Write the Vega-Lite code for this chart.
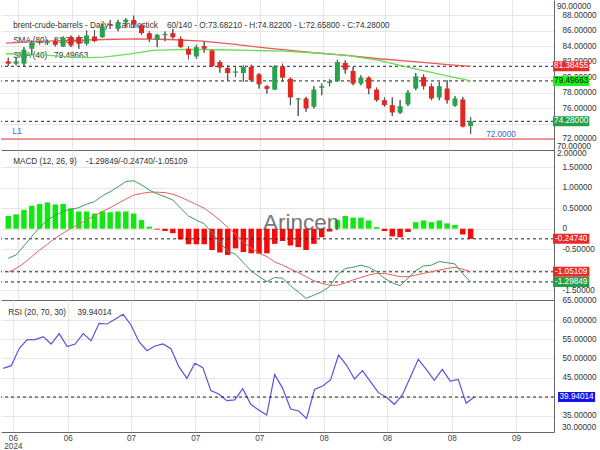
{
  "$schema": "https://vega.github.io/schema/vega-lite/v6.json",
  "padding": 0,
  "autosize": {"type": "pad"},
  "background": "white",
  "spacing": 0,
  "bounds": "flush",
  "config": {
    "font": "Liberation Sans",
    "view": {"stroke": null},
    "locale": {"number": {"decimal": ".", "thousands": ",", "grouping": [3], "currency": ["$", ""], "minus": "-"}},
    "axis": {"labelFont": "Liberation Sans", "labelFontSize": 8.2, "labelColor": "#333", "gridColor": "#e6e6e6", "domainColor": "#666", "domainWidth": 1, "ticks": false, "title": null, "labelOverlap": false, "labelFlush": false, "tickCount": 30, "zindex": 0},
    "text": {"font": "Liberation Sans"}
  },
  "datasets": {
    "candles": [
      {"i":0,"o":82.02,"h":82.49,"l":81.42,"c":81.72},
      {"i":1,"o":81.72,"h":82.58,"l":81.51,"c":82.02},
      {"i":2,"o":81.72,"h":83.86,"l":81.42,"c":83.52},
      {"i":3,"o":83.65,"h":84.72,"l":82.79,"c":84.42},
      {"i":4,"o":84.42,"h":84.65,"l":84.20,"c":84.57},
      {"i":5,"o":84.38,"h":84.80,"l":84.16,"c":84.54},
      {"i":6,"o":84.63,"h":84.93,"l":83.94,"c":84.16},
      {"i":7,"o":83.94,"h":85.23,"l":83.86,"c":85.06},
      {"i":8,"o":85.14,"h":85.36,"l":83.86,"c":84.07},
      {"i":9,"o":85.14,"h":85.36,"l":83.65,"c":84.29},
      {"i":10,"o":84.29,"h":86.00,"l":84.07,"c":85.36},
      {"i":11,"o":85.23,"h":86.08,"l":84.50,"c":84.63},
      {"i":12,"o":85.14,"h":86.85,"l":85.06,"c":86.51},
      {"i":13,"o":86.85,"h":87.37,"l":86.21,"c":86.68},
      {"i":14,"o":86.21,"h":87.37,"l":85.91,"c":87.07},
      {"i":15,"o":87.07,"h":87.58,"l":86.51,"c":87.41},
      {"i":16,"o":87.37,"h":87.92,"l":86.43,"c":86.77},
      {"i":17,"o":86.64,"h":86.85,"l":85.44,"c":85.66},
      {"i":18,"o":85.66,"h":85.91,"l":84.50,"c":84.93},
      {"i":19,"o":84.84,"h":85.57,"l":83.86,"c":85.44},
      {"i":20,"o":85.40,"h":85.87,"l":84.63,"c":85.55},
      {"i":21,"o":85.66,"h":86.21,"l":84.93,"c":85.14},
      {"i":22,"o":84.93,"h":85.23,"l":83.73,"c":83.86},
      {"i":23,"o":83.65,"h":83.94,"l":82.28,"c":82.88},
      {"i":24,"o":82.66,"h":84.16,"l":82.36,"c":83.86},
      {"i":25,"o":83.99,"h":84.59,"l":83.13,"c":83.65},
      {"i":26,"o":83.43,"h":83.52,"l":81.29,"c":81.42},
      {"i":27,"o":81.93,"h":82.15,"l":80.56,"c":81.21},
      {"i":28,"o":81.16,"h":81.51,"l":79.58,"c":80.52},
      {"i":29,"o":80.56,"h":81.29,"l":80.01,"c":80.72},
      {"i":30,"o":80.52,"h":81.51,"l":79.37,"c":81.29},
      {"i":31,"o":81.29,"h":81.59,"l":79.37,"c":79.58},
      {"i":32,"o":80.35,"h":80.52,"l":78.51,"c":79.07},
      {"i":33,"o":78.81,"h":78.94,"l":77.87,"c":78.47},
      {"i":34,"o":78.38,"h":81.51,"l":78.30,"c":81.38},
      {"i":35,"o":81.38,"h":81.72,"l":79.37,"c":79.92},
      {"i":36,"o":79.79,"h":79.92,"l":76.37,"c":77.36},
      {"i":37,"o":77.08,"h":77.31,"l":74.96,"c":77.23},
      {"i":38,"o":77.23,"h":77.44,"l":75.52,"c":75.94},
      {"i":39,"o":76.16,"h":78.81,"l":75.94,"c":78.38},
      {"i":40,"o":78.60,"h":79.15,"l":77.65,"c":78.81},
      {"i":41,"o":79.24,"h":79.71,"l":78.81,"c":79.45},
      {"i":42,"o":79.45,"h":82.23,"l":79.37,"c":81.93},
      {"i":43,"o":81.81,"h":82.15,"l":80.44,"c":80.95},
      {"i":44,"o":80.78,"h":81.29,"l":78.94,"c":79.15},
      {"i":45,"o":79.15,"h":80.22,"l":78.94,"c":79.92},
      {"i":46,"o":79.92,"h":80.09,"l":77.78,"c":78.51},
      {"i":47,"o":78.38,"h":78.64,"l":76.80,"c":77.01},
      {"i":48,"o":77.01,"h":77.36,"l":76.16,"c":76.37},
      {"i":49,"o":76.37,"h":77.36,"l":74.96,"c":75.43},
      {"i":50,"o":75.39,"h":77.01,"l":75.22,"c":76.24},
      {"i":51,"o":76.46,"h":78.30,"l":76.24,"c":78.00},
      {"i":52,"o":78.51,"h":80.52,"l":78.30,"c":80.09},
      {"i":53,"o":80.01,"h":80.35,"l":78.38,"c":78.81},
      {"i":54,"o":78.81,"h":79.15,"l":77.01,"c":77.23},
      {"i":55,"o":77.36,"h":79.37,"l":77.01,"c":78.81},
      {"i":56,"o":78.51,"h":79.58,"l":76.58,"c":77.01},
      {"i":57,"o":76.29,"h":77.53,"l":76.16,"c":77.23},
      {"i":58,"o":77.10,"h":77.44,"l":73.50,"c":73.59},
      {"i":59,"o":73.6821,"h":74.822,"l":72.658,"c":74.28}
    ],
    "sma80": [
      {"i":-0.29,"v":84.37},{"i":3.9,"v":84.59},{"i":8.1,"v":84.72},{"i":12.2,"v":84.84},
      {"i":16.4,"v":84.93},{"i":20.6,"v":84.84},{"i":24.8,"v":84.63},{"i":29.0,"v":84.20},
      {"i":33.1,"v":83.73},{"i":37.3,"v":83.30},{"i":39.0,"v":83.13},{"i":43.2,"v":82.79},
      {"i":47.3,"v":82.36},{"i":51.5,"v":82.02},{"i":55.7,"v":81.63},{"i":59,"v":81.38455}
    ],
    "sma40": [
      {"i":-0.29,"v":83.00},{"i":3.9,"v":82.88},{"i":8.1,"v":82.58},{"i":10.2,"v":82.49},
      {"i":12.2,"v":82.58},{"i":15.6,"v":83.00},{"i":18.5,"v":83.43},{"i":22.7,"v":83.56},
      {"i":26.9,"v":83.52},{"i":31.0,"v":83.43},{"i":35.2,"v":83.35},{"i":37.3,"v":83.22},
      {"i":39.0,"v":83.13},{"i":43.2,"v":82.79},{"i":47.3,"v":82.15},{"i":51.5,"v":81.16},
      {"i":55.7,"v":80.22},{"i":59,"v":79.49663}
    ],
    "macd": [
      {"i":0,"m":-0.72,"s":-1.06,"h":0.31},{"i":1,"m":-0.64,"s":-0.97,"h":0.35},
      {"i":2,"m":-0.42,"s":-0.84,"h":0.46},{"i":3,"m":-0.19,"s":-0.68,"h":0.56},
      {"i":4,"m":0.03,"s":-0.52,"h":0.60},{"i":5,"m":0.21,"s":-0.38,"h":0.64},
      {"i":6,"m":0.33,"s":-0.23,"h":0.59},{"i":7,"m":0.42,"s":-0.11,"h":0.60},
      {"i":8,"m":0.48,"s":0.01,"h":0.49},{"i":9,"m":0.51,"s":0.11,"h":0.42},
      {"i":10,"m":0.60,"s":0.21,"h":0.42},{"i":11,"m":0.66,"s":0.31,"h":0.37},
      {"i":12,"m":0.80,"s":0.42,"h":0.42},{"i":13,"m":0.90,"s":0.51,"h":0.40},
      {"i":14,"m":1.02,"s":0.62,"h":0.42},{"i":15,"m":1.15,"s":0.72,"h":0.42},
      {"i":16,"m":1.17,"s":0.82,"h":0.37},{"i":17,"m":1.07,"s":0.86,"h":0.21},
      {"i":18,"m":0.94,"s":0.89,"h":0.05},{"i":19,"m":0.85,"s":0.89,"h":-0.02},
      {"i":20,"m":0.78,"s":0.88,"h":-0.056},{"i":21,"m":0.70,"s":0.84,"h":-0.11},
      {"i":22,"m":0.50,"s":0.77,"h":-0.26},{"i":23,"m":0.31,"s":0.68,"h":-0.38},
      {"i":24,"m":0.21,"s":0.59,"h":-0.38},{"i":25,"m":0.12,"s":0.50,"h":-0.38},
      {"i":26,"m":-0.10,"s":0.36,"h":-0.52},{"i":27,"m":-0.33,"s":0.21,"h":-0.58},
      {"i":28,"m":-0.55,"s":0.03,"h":-0.64},{"i":29,"m":-0.62,"s":-0.13,"h":-0.48},
      {"i":30,"m":-0.83,"s":-0.32,"h":-0.57},{"i":31,"m":-1.03,"s":-0.48,"h":-0.60},
      {"i":32,"m":-1.17,"s":-0.60,"h":-0.61},{"i":33,"m":-1.29,"s":-0.68,"h":-0.60},
      {"i":34,"m":-1.19,"s":-0.81,"h":-0.37},{"i":35,"m":-1.21,"s":-0.89,"h":-0.30},
      {"i":36,"m":-1.39,"s":-0.98,"h":-0.41},{"i":37,"m":-1.54,"s":-1.07,"h":-0.45},
      {"i":38,"m":-1.70,"s":-1.17,"h":-0.52},{"i":39,"m":-1.62,"s":-1.27,"h":-0.37},
      {"i":40,"m":-1.54,"s":-1.33,"h":-0.21},{"i":41,"m":-1.41,"s":-1.38,"h":-0.07},
      {"i":42,"m":-1.13,"s":-1.38,"h":0.21},{"i":43,"m":-0.97,"s":-1.32,"h":0.31},
      {"i":44,"m":-0.94,"s":-1.25,"h":0.27},{"i":45,"m":-0.89,"s":-1.19,"h":0.27},
      {"i":46,"m":-0.94,"s":-1.13,"h":0.20},{"i":47,"m":-1.05,"s":-1.09,"h":0.04},
      {"i":48,"m":-1.21,"s":-1.09,"h":-0.056},{"i":49,"m":-1.32,"s":-1.13,"h":-0.19},
      {"i":50,"m":-1.39,"s":-1.17,"h":-0.21},{"i":51,"m":-1.21,"s":-1.17,"h":-0.08},
      {"i":52,"m":-1.02,"s":-1.13,"h":0.16},{"i":53,"m":-0.91,"s":-1.09,"h":0.20},
      {"i":54,"m":-0.89,"s":-1.05,"h":0.16},{"i":55,"m":-0.80,"s":-1.01,"h":0.20},
      {"i":56,"m":-0.83,"s":-0.97,"h":0.13},{"i":57,"m":-0.86,"s":-0.94,"h":0.09},
      {"i":58,"m":-1.10,"s":-0.99,"h":-0.14},{"i":59,"m":-1.29849,"s":-1.05109,"h":-0.2474}
    ],
    "rsi": [
      {"i":0,"r":47.41},{"i":1,"r":48.11},{"i":2,"r":52.62},{"i":3,"r":54.88},{"i":4,"r":54.88},
      {"i":5,"r":55.66},{"i":6,"r":53.75},{"i":7,"r":56.44},{"i":8,"r":53.06},{"i":9,"r":53.75},
      {"i":10,"r":56.44},{"i":11,"r":54.62},{"i":12,"r":59.13},{"i":13,"r":58.96},{"i":14,"r":60.17},
      {"i":15,"r":61.48},{"i":16,"r":58.70},{"i":17,"r":54.36},{"i":18,"r":52.01},{"i":19,"r":53.23},
      {"i":20,"r":53.75},{"i":21,"r":52.53},{"i":22,"r":47.85},{"i":23,"r":44.81},{"i":24,"r":48.72},
      {"i":25,"r":47.59},{"i":26,"r":41.60},{"i":27,"r":40.73},{"i":28,"r":38.99},{"i":29,"r":39.2},
      {"i":30,"r":42.12},{"i":31,"r":38.04},{"i":32,"r":36.56},{"i":33,"r":35.26},{"i":34,"r":45.85},
      {"i":35,"r":42.20},{"i":36,"r":36.82},{"i":37,"r":36.30},{"i":38,"r":34.39},{"i":39,"r":41.94},
      {"i":40,"r":42.81},{"i":41,"r":44.38},{"i":42,"r":50.89},{"i":43,"r":48.28},{"i":44,"r":44.64},
      {"i":45,"r":46.81},{"i":46,"r":43.94},{"i":47,"r":41.08},{"i":48,"r":39.86},{"i":49,"r":38.04},
      {"i":50,"r":40.47},{"i":51,"r":45.07},{"i":52,"r":49.76},{"i":53,"r":47.15},{"i":54,"r":44.29},
      {"i":55,"r":47.15},{"i":56,"r":44.11},{"i":57,"r":44.55},{"i":58,"r":38.30},{"i":59,"r":39.94014}
    ],
    "priceLevels": [{"k":"sma80","v":81.38455},{"k":"sma40","v":79.49663},{"k":"close","v":74.28}],
    "macdLevels": [{"k":"hist","v":-0.2474},{"k":"signal","v":-1.05109},{"k":"macd","v":-1.29849}],
    "rsiLevels": [{"k":"rsi","v":39.94014}],
    "alerts": [{"name":"L1","v":72}]
  },
  "resolve": {"scale": {"x": "independent", "y": "independent"}},
  "vconcat": [
    {
      "width": 553, "height": 150,
      "layer": [
        {
          "data": {"name": "candles"},
          "mark": {"type": "rule", "color": "#555", "strokeWidth": 1},
          "encoding": {
            "x": {"field": "i", "type": "quantitative", "scale": {"domain": [-0.29, 69.0], "nice": false, "zero": false},
              "axis": {"values": [1.2, 8.07, 16, 24.06, 32.08, 40.15, 48.08, 56.19, 64.25], "tickCount": 30, "labels": false, "ticks": false, "domain": true, "grid": true, "title": null, "zindex": 0}},
            "y": {"field": "l", "type": "quantitative", "scale": {"domain": [70.58, 89.94], "nice": false, "zero": false},
              "axis": {"orient": "right", "values": [72,74,76,78,80,82,84,86,88], "tickCount": 30, "labelExpr": "datum.value == 74 ? '' : format(datum.value, '.5f')", "labelPadding": 8, "ticks": false, "domain": true, "grid": true, "title": null, "zindex": 0}},
            "y2": {"field": "h"}
          }
        },
        {
          "data": {"values": [{"t": 0}]},
          "mark": {"type": "text", "align": "left", "baseline": "middle", "fontSize": 8.2, "color": "#333", "lineHeight": 15},
          "encoding": {
            "x": {"datum": 0.62},
            "y": {"datum": 86.62},
            "text": {"value": ["brent-crude-barrels - Daily - Candlestick\u00a0\u00a0\u00a0\u00a060/140 - O:73.68210 - H:74.82200 - L:72.65800 - C:74.28000", "SMA (80)\u00a0\u00a0\u00a081.38455", "SMA (40)\u00a0\u00a0\u00a079.49663"]}
          }
        },
        {
          "data": {"values": [{"v": 90}]},
          "mark": {"type": "text", "align": "left", "baseline": "middle", "fontSize": 8.2, "color": "#333", "dy": 7},
          "encoding": {"x": {"datum": 70.01}, "y": {"field": "v", "type": "quantitative"}, "text": {"field": "v", "type": "quantitative", "format": ".5f"}}
        },
        {
          "data": {"values": [{"v": 70}]},
          "mark": {"type": "text", "align": "left", "baseline": "middle", "fontSize": 8.2, "color": "#333", "dy": -7.5},
          "encoding": {"x": {"datum": 70.01}, "y": {"field": "v", "type": "quantitative"}, "text": {"field": "v", "type": "quantitative", "format": ".5f"}}
        },
        {
          "data": {"name": "priceLevels"},
          "mark": {"type": "rule", "strokeDash": [3, 3], "color": "#222", "strokeWidth": 1},
          "encoding": {"y": {"field": "v", "type": "quantitative"}}
        },
        {
          "data": {"name": "alerts"},
          "mark": {"type": "rule", "color": "#e8393a", "strokeWidth": 1},
          "encoding": {"y": {"field": "v", "type": "quantitative"}}
        },
        {
          "data": {"name": "sma80"},
          "mark": {"type": "line", "color": "#e85a5a", "strokeWidth": 1.3},
          "encoding": {"x": {"field": "i", "type": "quantitative"}, "y": {"field": "v", "type": "quantitative"}}
        },
        {
          "data": {"name": "sma40"},
          "mark": {"type": "line", "color": "#66dd55", "strokeWidth": 1.3},
          "encoding": {"x": {"field": "i", "type": "quantitative"}, "y": {"field": "v", "type": "quantitative"}}
        },
        {
          "data": {"name": "candles"},
          "mark": {"type": "rule", "color": "#555", "strokeWidth": 1},
          "encoding": {"x": {"field": "i", "type": "quantitative"}, "y": {"field": "l", "type": "quantitative"}, "y2": {"field": "h"}}
        },
        {
          "data": {"name": "candles"},
          "mark": {"type": "bar", "size": 5},
          "encoding": {
            "x": {"field": "i", "type": "quantitative"},
            "y": {"field": "o", "type": "quantitative"},
            "y2": {"field": "c"},
            "color": {"condition": {"test": "datum.c >= datum.o", "value": "#28a24c"}, "value": "#e3261f"}
          }
        },
        {
          "data": {"name": "priceLevels"},
          "mark": {"type": "rect", "yOffset": -5, "y2Offset": 5},
          "encoding": {
            "x": {"datum": 69.51}, "x2": {"datum": 74.15},
            "y": {"field": "v", "type": "quantitative"}, "y2": {"field": "v"},
            "color": {"condition": [{"test": "datum.k == 'sma80'", "value": "#ea2a2a"}, {"test": "datum.k == 'sma40'", "value": "#1fee1f"}], "value": "#24a04a"}
          }
        },
        {
          "data": {"name": "priceLevels"},
          "mark": {"type": "text", "align": "center", "baseline": "middle", "fontSize": 8.2},
          "encoding": {
            "x": {"datum": 71.83},
            "y": {"field": "v", "type": "quantitative"},
            "text": {"field": "v", "type": "quantitative", "format": ".5f"},
            "color": {"condition": {"test": "datum.k == 'sma40'", "value": "#111"}, "value": "white"}
          }
        },
        {
          "data": {"name": "alerts"},
          "mark": {"type": "text", "align": "left", "baseline": "middle", "fontSize": 8.2, "color": "#3c64d8", "dy": -7},
          "encoding": {"x": {"datum": 0.55}, "y": {"field": "v", "type": "quantitative"}, "text": {"field": "name"}}
        },
        {
          "data": {"name": "alerts"},
          "mark": {"type": "text", "align": "center", "baseline": "middle", "fontSize": 8.2, "color": "#3c64d8", "dy": -4},
          "encoding": {"x": {"datum": 62.87}, "y": {"field": "v", "type": "quantitative"}, "text": {"field": "v", "type": "quantitative", "format": ".4f"}}
        }
      ]
    },
    {
      "width": 553, "height": 150,
      "layer": [
        {
          "data": {"name": "macd"},
          "mark": {"type": "bar", "size": 5.5},
          "encoding": {
            "x": {"field": "i", "type": "quantitative", "scale": {"domain": [-0.29, 69.0], "nice": false, "zero": false},
              "axis": {"values": [1.2, 8.07, 16, 24.06, 32.08, 40.15, 48.08, 56.19, 64.25], "tickCount": 30, "labels": false, "ticks": false, "domain": true, "grid": true, "title": null, "zindex": 0}},
            "y": {"field": "h", "type": "quantitative", "scale": {"domain": [-1.739, 1.919], "nice": false, "zero": false},
              "axis": {"orient": "right", "values": [-1.5,-1,-0.5,0,0.5,1,1.5], "tickCount": 30, "labelExpr": "datum.value == 0 ? '0' : datum.value == -1 ? '' : replace(format(datum.value, '.5f'), '\u2212', '-')", "labelPadding": 8, "ticks": false, "domain": true, "grid": true, "title": null, "zindex": 0}},
            "color": {"condition": {"test": "datum.h >= 0", "value": "#11e811"}, "value": "#f20c0c"}
          }
        },
        {
          "data": {"values": [{"t": 0}]},
          "mark": {"type": "text", "align": "left", "baseline": "alphabetic", "fontSize": 22.5, "color": "#555", "opacity": 0.8},
          "encoding": {"x": {"datum": 32.5}, "y": {"datum": -0.03}, "text": {"value": "Arincen"}}
        },
        {
          "data": {"values": [{"t": 0}]},
          "mark": {"type": "text", "align": "left", "baseline": "middle", "fontSize": 8.2, "color": "#333"},
          "encoding": {"x": {"datum": 0.62}, "y": {"datum": 1.634}, "text": {"value": "MACD (12, 26, 9)\u00a0\u00a0\u00a0\u00a0-1.29849/-0.24740/-1.05109"}}
        },
        {
          "data": {"values": [{"v": 2}]},
          "mark": {"type": "text", "align": "left", "baseline": "middle", "fontSize": 8.2, "color": "#333", "dy": 7.5},
          "encoding": {"x": {"datum": 70.01}, "y": {"field": "v", "type": "quantitative"}, "text": {"field": "v", "type": "quantitative", "format": ".5f"}}
        },
        {
          "data": {"name": "macdLevels"},
          "mark": {"type": "rule", "strokeDash": [3, 3], "color": "#222", "strokeWidth": 1},
          "encoding": {"y": {"field": "v", "type": "quantitative"}}
        },
        {
          "data": {"name": "macd"},
          "mark": {"type": "line", "color": "#e56060", "strokeWidth": 1},
          "encoding": {"x": {"field": "i", "type": "quantitative"}, "y": {"field": "s", "type": "quantitative"}}
        },
        {
          "data": {"name": "macd"},
          "mark": {"type": "line", "color": "#3d9d5d", "strokeWidth": 1},
          "encoding": {"x": {"field": "i", "type": "quantitative"}, "y": {"field": "m", "type": "quantitative"}}
        },
        {
          "data": {"name": "macdLevels"},
          "mark": {"type": "rect", "yOffset": -5, "y2Offset": 5},
          "encoding": {
            "x": {"datum": 69.51}, "x2": {"datum": 74.15},
            "y": {"field": "v", "type": "quantitative"}, "y2": {"field": "v"},
            "color": {"condition": {"test": "datum.k == 'macd'", "value": "#24a04a"}, "value": "#ea2a2a"}
          }
        },
        {
          "data": {"name": "macdLevels"},
          "mark": {"type": "text", "align": "center", "baseline": "middle", "fontSize": 8.2, "color": "white"},
          "encoding": {
            "x": {"datum": 71.83},
            "y": {"field": "v", "type": "quantitative"},
            "text": {"field": "v", "type": "quantitative", "format": ".5f"}
          }
        }
      ]
    },
    {
      "width": 553, "height": 132,
      "layer": [
        {
          "data": {"name": "rsi"},
          "mark": {"type": "line", "color": "#5555dd", "strokeWidth": 1.2},
          "encoding": {
            "x": {"field": "i", "type": "quantitative", "scale": {"domain": [-0.29, 69.0], "nice": false, "zero": false},
              "axis": {"values": [1.2, 8.07, 16, 24.06, 32.08, 40.15, 48.08, 56.19, 64.25], "tickCount": 30, "labelExpr": "datum.value < 4 ? ['06', '2024'] : datum.value < 12 ? '06' : datum.value < 36 ? '07' : datum.value < 60 ? '08' : '09'", "labelPadding": 2.5, "labelLineHeight": 8, "labelBaseline": "top", "labelAngle": 0, "labelColor": "#444", "ticks": false, "domain": true, "grid": true, "title": null, "zindex": 0}},
            "y": {"field": "r", "type": "quantitative", "scale": {"domain": [30.83, 65.21], "nice": false, "zero": false},
              "axis": {"orient": "right", "values": [35,40,45,50,55,60,65], "tickCount": 30, "labelExpr": "datum.value == 40 ? '' : format(datum.value, '.5f')", "labelPadding": 8, "ticks": false, "domain": true, "grid": true, "title": null, "zindex": 0,
                "gridOpacity": {"condition": {"test": "datum.value > 64", "value": 0}, "value": 1}}}
          }
        },
        {
          "data": {"values": [{"t": 0}]},
          "mark": {"type": "text", "align": "left", "baseline": "middle", "fontSize": 8.2, "color": "#333"},
          "encoding": {"x": {"datum": 0.62}, "y": {"datum": 61.9}, "text": {"value": "RSI (20, 70, 30)\u00a0\u00a0\u00a0\u00a0\u00a039.94014"}}
        },
        {
          "data": {"values": [{"v": 30}]},
          "mark": {"type": "text", "align": "left", "baseline": "middle", "fontSize": 8.2, "color": "#333", "dy": -7.5},
          "encoding": {"x": {"datum": 70.01}, "y": {"field": "v", "type": "quantitative"}, "text": {"field": "v", "type": "quantitative", "format": ".5f"}}
        },
        {
          "data": {"name": "rsiLevels"},
          "mark": {"type": "rule", "strokeDash": [3, 3], "color": "#222", "strokeWidth": 1},
          "encoding": {"y": {"field": "v", "type": "quantitative"}}
        },
        {
          "data": {"name": "rsiLevels"},
          "mark": {"type": "rect", "yOffset": -5, "y2Offset": 5, "color": "#1414ee"},
          "encoding": {
            "x": {"datum": 69.51}, "x2": {"datum": 74.15},
            "y": {"field": "v", "type": "quantitative"}, "y2": {"field": "v"}
          }
        },
        {
          "data": {"name": "rsiLevels"},
          "mark": {"type": "text", "align": "center", "baseline": "middle", "fontSize": 8.2, "color": "white"},
          "encoding": {
            "x": {"datum": 71.83},
            "y": {"field": "v", "type": "quantitative"},
            "text": {"field": "v", "type": "quantitative", "format": ".5f"}
          }
        }
      ]
    }
  ]
}
